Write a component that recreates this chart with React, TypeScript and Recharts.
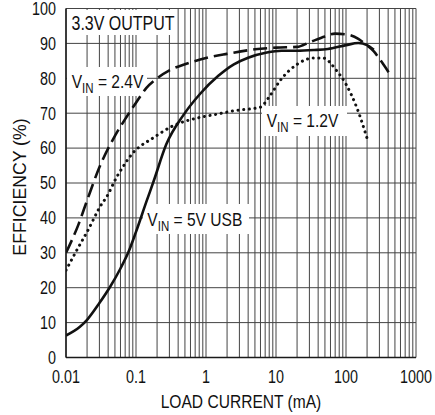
import { LineChart, Line, XAxis, YAxis, CartesianGrid, Customized } from 'recharts';

// load current (mA) / efficiency (%)
const usbCurrent = [0.01, 0.0158, 0.02, 0.03, 0.0425, 0.06, 0.078, 0.1, 0.14, 0.18, 0.27, 0.47, 0.82, 1.5, 2.5, 4, 7.4, 12, 20, 35, 55, 100, 150, 200, 250];
const usbEff = [6.3, 8.8, 10.8, 15.6, 20.2, 25.5, 30.2, 36, 44.5, 50.7, 61, 69.3, 75.5, 80.7, 84, 85.9, 87.4, 87.9, 87.9, 88.1, 88.4, 89.5, 90.1, 89.5, 88.2];

const v24Current = [0.01, 0.015, 0.02, 0.03, 0.05, 0.07, 0.1, 0.14, 0.2, 0.3, 0.5, 1, 2, 5, 10, 20, 30, 50, 70, 100, 150, 200, 250, 300, 420];
const v24Eff = [30, 38, 45, 54.5, 63.5, 68.3, 73, 77.2, 80, 82.3, 84, 85.8, 87, 88.3, 88.8, 89, 90.3, 92, 92.8, 92.6, 91.3, 89.4, 87.7, 85.6, 81.3];

const v12Current = [0.01, 0.0142, 0.02, 0.0324, 0.038, 0.053, 0.07, 0.09, 0.12, 0.16, 0.34, 0.82, 1.5, 2.5, 5.9, 8.2, 11.4, 20, 34, 47, 74, 100, 142, 208];
const v12Eff = [25, 30.7, 36, 44, 46, 51.7, 55.6, 58.6, 60.8, 62.4, 66.4, 68.8, 69.8, 70.7, 71.7, 75, 79.3, 84, 85.8, 85.8, 82.1, 78.3, 71.7, 61.7];

const decades = [0.01, 0.1, 1, 10, 100];
const multipliers = [1, 2, 3, 4, 5, 6, 7, 8, 9];
const xMajor = [0.01, 0.1, 1, 10, 100, 1000];
const xTickLabels = ['0.01', '0.1', '1', '10', '100', '1000'];
const xGrid = [...decades.flatMap((d) => multipliers.map((k) => d * k)), 1000];
const yTicks = [0, 10, 20, 30, 40, 50, 60, 70, 80, 90, 100];

const toPoints = (xs: number[], ys: number[]) => xs.map((x, i) => ({ x, y: ys[i] }));
const usbData = toPoints(usbCurrent, usbEff);
const v24Data = toPoints(v24Current, v24Eff);
const v12Data = toPoints(v12Current, v12Eff);

// no narrow face installed, so squeeze Liberation Sans like Arial Narrow
const SANS = "'Liberation Sans', Arial, sans-serif";
const SQUEEZE = 0.82;
const INK = '#111';

function NText({ x, y, size, anchor = 'start', children }: any) {
  return (
    <text
      transform={`translate(${x} ${y}) scale(${SQUEEZE} 1)`}
      textAnchor={anchor}
      fontFamily={SANS}
      fontSize={size}
      fill={INK}
    >
      {children}
    </text>
  );
}

const XTick = ({ x, y, payload }: any) => {
  const i = xMajor.indexOf(payload.value);
  if (i < 0) return null;
  return (
    <NText x={x} y={y + 25.5} size={17.5} anchor="middle">
      {xTickLabels[i]}
    </NText>
  );
};

const YTick = ({ x, y, payload }: any) => (
  <NText x={x} y={y + 6.3} size={17.5} anchor="end">
    {payload.value}
  </NText>
);

function VinLabel({ x, y, value }: { x: number; y: number; value: string }) {
  return (
    <NText x={x} y={y} size={19}>
      V
      <tspan fontSize={14} dy={5}>IN</tspan>
      <tspan dy={-5}>{' = ' + value}</tspan>
    </NText>
  );
}

function Annotations() {
  return (
    <g>
      <rect x={67} y={10} width={110} height={25} fill="#fff" />
      <NText x={71.5} y={29.5} size={19.5}>3.3V OUTPUT</NText>

      <rect x={67} y={67} width={80} height={29} fill="#fff" />
      <VinLabel x={71.7} y={87.7} value="2.4V" />

      <rect x={262} y={106} width={85} height={30} fill="#fff" />
      <VinLabel x={266.7} y={127} value="1.2V" />

      <rect x={143} y={204} width={106} height={30} fill="#fff" />
      <VinLabel x={147.3} y={226} value="5V USB" />

      <NText x={241} y={408} size={19} anchor="middle">
        LOAD CURRENT (mA)
      </NText>
      <text
        x={26}
        y={187}
        transform="rotate(-90 26 187)"
        textAnchor="middle"
        fontFamily={SANS}
        fontSize={17.7}
        fill={INK}
      >
        EFFICIENCY (%)
      </text>
    </g>
  );
}

export default function App() {
  return (
    <div style={{ position: 'absolute', left: 0, top: 0, width: 435, height: 415, background: '#fff' }}>
      <LineChart width={435} height={415} margin={{ top: 8.5, right: 19, bottom: 27.5, left: 0 }}>
        <CartesianGrid stroke="#444" strokeWidth={1} />
        <XAxis
          type="number"
          dataKey="x"
          scale="log"
          domain={[0.01, 1000]}
          ticks={xGrid}
          interval={0}
          allowDataOverflow
          height={30}
          tickLine={false}
          tickSize={0}
          tickMargin={0}
          axisLine={{ stroke: '#1a1a1a', strokeWidth: 1.5 }}
          tick={<XTick />}
        />
        <YAxis
          type="number"
          domain={[0, 100]}
          ticks={yTicks}
          interval={0}
          width={66}
          tickLine={false}
          tickSize={0}
          tickMargin={10}
          axisLine={{ stroke: '#1a1a1a', strokeWidth: 1.5 }}
          tick={<YTick />}
        />
        <Customized component={Annotations} />
        <Line
          data={v24Data}
          dataKey="y"
          type="monotone"
          stroke={INK}
          strokeWidth={2.6}
          strokeDasharray="14 6"
          dot={false}
          isAnimationActive={false}
        />
        <Line
          data={v12Data}
          dataKey="y"
          type="monotone"
          stroke={INK}
          strokeWidth={3}
          strokeDasharray="0.1 5.6"
          strokeLinecap="round"
          dot={false}
          isAnimationActive={false}
        />
        <Line
          data={usbData}
          dataKey="y"
          type="monotone"
          stroke={INK}
          strokeWidth={2.6}
          dot={false}
          isAnimationActive={false}
        />
      </LineChart>
    </div>
  );
}
